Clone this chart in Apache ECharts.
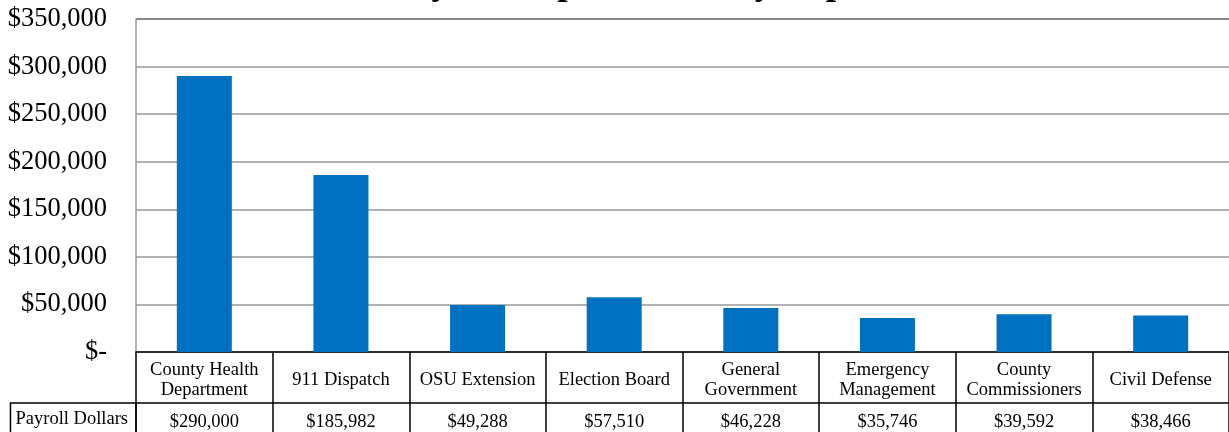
<!DOCTYPE html>
<html>
<head>
<meta charset="utf-8">
<script src="https://cdn.jsdelivr.net/npm/echarts@6/dist/echarts.min.js"></script>
<style>html,body{margin:0;padding:0;background:#fff;}#c{width:1229px;height:432px;}</style>
</head>
<body>
<div id="c"></div>
<script>
const titleText = 'Payroll Expenditures by Department';
const categories = ['County Health\nDepartment', '911 Dispatch', 'OSU Extension', 'Election Board', 'General\nGovernment', 'Emergency\nManagement', 'County\nCommissioners', 'Civil Defense'];
const seriesName = 'Payroll Dollars';
const payroll = [290000, 185982, 49288, 57510, 46228, 35746, 39592, 38466];
const yTicks = [0, 50000, 100000, 150000, 200000, 250000, 300000, 350000];

const FONT = "'Liberation Serif', 'Times New Roman', serif";
const money = v => v === 0 ? '$-' : '$' + v.toLocaleString('en-US');
const gridColors = yTicks.map((v, i) => i === yTicks.length - 1 ? '#5f5f5f' : '#999');

const chart = echarts.init(document.getElementById('c'));
chart.setOption({
  animation: false,
  backgroundColor: '#fff',
  title: {
    text: titleText,
    left: 682, textAlign: 'center',
    top: -34, padding: 0,
    textStyle: { fontFamily: FONT, fontWeight: 'bold', fontSize: 37, color: '#000' }
  },
  grid: { left: 136, right: 0, top: 19, bottom: 80, containLabel: false, outerBoundsMode: 'none' },
  xAxis: [{
    type: 'category',
    data: categories,
    position: 'bottom',
    boundaryGap: true,
    axisLine: { lineStyle: { color: '#000', width: 1.5 } },
    axisTick: { show: true, interval: 0, length: 81, lineStyle: { color: '#000', width: 1.5 } },
    axisLabel: { interval: 0, margin: 28, verticalAlign: 'middle', fontFamily: FONT, fontSize: 18.5, lineHeight: 20, color: '#000' }
  }, {
    type: 'category',
    data: categories,
    position: 'bottom',
    offset: 51,
    boundaryGap: true,
    axisLine: { lineStyle: { color: '#000', width: 1.5 } },
    axisTick: { show: false },
    axisLabel: {
      interval: 0, margin: 19, verticalAlign: 'middle', fontFamily: FONT, fontSize: 18.5, color: '#000',
      formatter: (v, i) => money(payroll[i])
    },
    name: seriesName,
    nameLocation: 'start',
    nameGap: 0,
    nameTextStyle: {
      fontFamily: FONT, fontSize: 18.5, color: '#000',
      align: 'right', verticalAlign: 'top',
      lineHeight: 19,
      padding: [7, 8, 12, 5],
      borderColor: '#000', borderWidth: 1.5
    }
  }],
  yAxis: {
    type: 'value',
    min: 0, max: 350000, interval: 50000,
    axisLine: { show: true, lineStyle: { color: '#999', width: 1.5 } },
    axisTick: { show: false },
    splitLine: { lineStyle: { color: gridColors, width: 1.5 } },
    axisLabel: { margin: 29, fontFamily: FONT, fontSize: 26.5, color: '#000', formatter: v => money(v) }
  },
  series: [{
    name: seriesName,
    type: 'bar',
    data: payroll,
    barWidth: 55,
    itemStyle: { color: '#0070C0' }
  }]
});
</script>
</body>
</html>
